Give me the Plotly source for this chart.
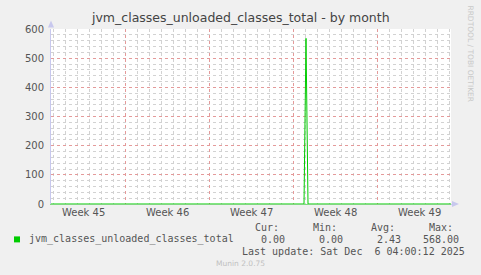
import plotly.graph_objects as go
import pandas as pd

# ---- data ----
times = ["2025-11-02 20:00", "2025-11-23 22:00", "2025-11-24 02:00",
         "2025-11-24 06:00", "2025-12-06 04:00"]
values = [0, 0, 568, 0, 0]
series_name = "jvm_classes_unloaded_classes_total"
week_boundaries = ["2025-11-09", "2025-11-16", "2025-11-23", "2025-11-30"]
week_label_pos = ["2025-11-05 12:00", "2025-11-12 12:00", "2025-11-19 12:00",
                  "2025-11-26 12:00", "2025-12-03 12:00"]
week_labels = ["Week 45", "Week 46", "Week 47", "Week 48", "Week 49"]
y_ticks = [0, 100, 200, 300, 400, 500, 600]
stat_names = ["Cur:", "Min:", "Avg:", "Max:"]
stat_values = [0.00, 0.00, 2.43, 568.00]
title = "jvm_classes_unloaded_classes_total - by month"
last_update = "Last update: Sat Dec  6 04:00:12 2025"
footer = "Munin 2.0.75"
side_text = "RRDTOOL / TOBI OETIKER"

W, H = 481, 275
L, R, T, B = 51, 451, 28.5, 204  # plot area pixel bounds
PW, PH = R - L, B - T

def px(x):
    return (x - L) / PW

def py(y):
    return (B - y) / PH

# minor grid positions (daily / every 20), skipping the major ones
days = pd.date_range(pd.Timestamp(times[0]).ceil("D"), pd.Timestamp(times[-1]), freq="D")
major_days = set(pd.to_datetime(week_boundaries))
x_minor = [d.strftime("%Y-%m-%d") for d in days if d not in major_days]
y_minor = [v for v in range(0, 601, 20) if v not in y_ticks]

GREEN = "#00CC00"
MAJ = "#e49a9a"
MIN = "#d2d2d2"
DOTS = "dot"
AX = "#c8c8ee"
TXT = "#555555"
MONO = "DejaVu Sans Mono"
SANS = "DejaVu Sans"

fig = go.Figure()
fig.add_trace(go.Scatter(x=times, y=values, mode="lines",
                         line=dict(color=GREEN, width=1), hoverinfo="skip",
                         showlegend=False))

fig.update_layout(
    width=W, height=H,
    margin=dict(l=L, r=W - R, t=T, b=H - B),
    paper_bgcolor="#F0F0F0", plot_bgcolor="#FFFFFF",
    showlegend=False,
    xaxis=dict(type="date", range=[times[0], times[-1]],
               tickmode="array", tickvals=week_boundaries, showticklabels=False,
               ticks="", showgrid=True, gridcolor=MAJ, griddash=DOTS, gridwidth=1,
               minor=dict(tickmode="array", tickvals=x_minor, showgrid=True,
                          gridcolor=MIN, griddash=DOTS, gridwidth=1, ticks=""),
               showline=True, linecolor="#7fd87f", linewidth=1, zeroline=False,
               fixedrange=True),
    yaxis=dict(range=[0, 600], tickmode="array", tickvals=y_ticks,
               ticktext=[str(v) for v in y_ticks],
               tickfont=dict(family=SANS, size=10, color=TXT),
               ticks="", ticklabelstandoff=4,
               showgrid=True, gridcolor=MAJ, griddash=DOTS, gridwidth=1,
               minor=dict(tickmode="array", tickvals=y_minor, showgrid=True,
                          gridcolor=MIN, griddash=DOTS, gridwidth=1, ticks=""),
               showline=True, linecolor=AX, linewidth=1, zeroline=False,
               fixedrange=True),
)

ann = []
ann.append(dict(text=title, x=px(240), y=py(17), xref="paper", yref="paper",
                showarrow=False, xanchor="center", yanchor="middle",
                font=dict(family=SANS, size=12.5, color="#444444")))
for pos, lab in zip(week_label_pos, week_labels):
    ann.append(dict(text=lab, x=pos, y=py(213), xref="x", yref="paper",
                    showarrow=False, xanchor="center", yanchor="middle",
                    font=dict(family=SANS, size=10, color=TXT)))
ann.append(dict(text=series_name, x=px(27), y=py(239.5), xref="paper", yref="paper",
                showarrow=False, xanchor="left", yanchor="middle",
                font=dict(family=MONO, size=10, color=TXT)))
stat_right = [287, 345, 403, 461]
for name, val, xr in zip(stat_names, stat_values, stat_right):
    ann.append(dict(text=name, x=px(xr - 6), y=py(227.5), xref="paper", yref="paper",
                    showarrow=False, xanchor="right", yanchor="middle",
                    font=dict(family=MONO, size=10, color=TXT)))
    ann.append(dict(text=f"{val:.2f}", x=px(xr), y=py(239.5), xref="paper", yref="paper",
                    showarrow=False, xanchor="right", yanchor="middle",
                    font=dict(family=MONO, size=10, color=TXT)))
ann.append(dict(text=last_update.replace(" ", "&nbsp;"), x=px(467), y=py(251.5),
                xref="paper", yref="paper", showarrow=False, xanchor="right",
                yanchor="middle", font=dict(family=MONO, size=10, color=TXT)))
ann.append(dict(text=footer, x=px(240), y=py(264), xref="paper", yref="paper",
                showarrow=False, xanchor="center", yanchor="middle",
                font=dict(family=SANS, size=7.5, color="#c0c0c0")))
ann.append(dict(text=side_text, x=px(471), y=py(53), xref="paper", yref="paper",
                showarrow=False, xanchor="center", yanchor="middle", textangle=90,
                font=dict(family=SANS, size=7.5, color="#c8c8c8")))
fig.update_layout(annotations=ann)

shapes = []
shapes.append(dict(type="rect", xref="paper", yref="paper",
                   x0=px(14), x1=px(20), y0=py(242.5), y1=py(236.5),
                   fillcolor=GREEN, line=dict(width=0)))
shapes.append(dict(type="path", xref="paper", yref="paper",
                   path=f"M {px(48)},{py(27)} L {px(54)},{py(27)} L {px(51)},{py(20)} Z",
                   fillcolor=AX, line=dict(width=0)))
shapes.append(dict(type="path", xref="paper", yref="paper",
                   path=f"M {px(452)},{py(201)} L {px(452)},{py(207)} L {px(459)},{py(204)} Z",
                   fillcolor=AX, line=dict(width=0)))
shapes.append(dict(type="line", xref="paper", yref="paper",
                   x0=px(451), x1=px(453), y0=py(204.5), y1=py(204.5),
                   line=dict(color=AX, width=1)))
fig.update_layout(shapes=shapes)

fig.write_html("out.html", include_plotlyjs=True, config={"displayModeBar": False})
